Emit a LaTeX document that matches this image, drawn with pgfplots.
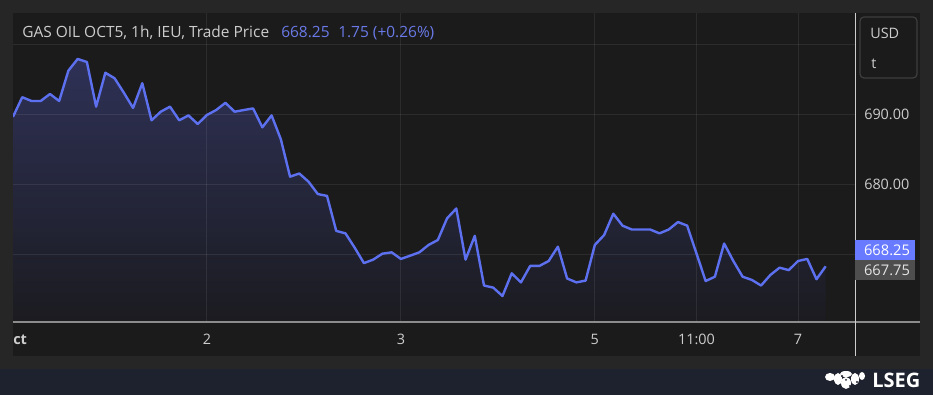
\documentclass[border=0pt]{standalone}
\usepackage{fontspec}
\setmainfont{Open Sans}
\usepackage{pgfplots}
\pgfplotsset{compat=1.18}
\usepackage{pgfplotstable}

\definecolor{outerbg}{RGB}{38,38,38}
\definecolor{panelbg}{RGB}{27,27,27}
\definecolor{strip}{RGB}{30,33,46}
\definecolor{linec}{RGB}{92,112,240}
\definecolor{txt}{RGB}{205,205,205}
\definecolor{bluetxt}{RGB}{106,122,232}
\definecolor{pricebox}{RGB}{104,122,255}
\definecolor{graybox}{RGB}{78,78,78}
\definecolor{filltop}{RGB}{46,49,86}
\definecolor{fillbot}{RGB}{27,27,32}
\definecolor{axisl}{RGB}{140,140,140}
\definecolor{vline}{RGB}{205,205,205}
\definecolor{boxborder}{RGB}{62,62,62}

\pgfplotstableread{
x y
0 689.6
1 692.4
2 691.86
3 691.86
4 692.86
5 691.86
6 696.2
7 697.86
8 697.43
9 691.05
10 695.9
11 695.1
12 693.05
13 690.86
14 694.4
15 689.1
16 690.33
17 691.05
18 689.1
19 689.8
20 688.57
21 689.86
22 690.57
23 691.6
24 690.33
25 690.57
26 690.8
27 688.1
28 689.8
29 686.4
30 681.05
31 681.5
32 680.33
33 678.57
34 678.3
35 673.3
36 672.95
37 670.9
38 668.7
39 669.2
40 670.05
41 670.24
42 669.3
43 669.76
44 670.24
45 671.3
46 672
47 675.1
48 676.5
49 669.2
50 672.6
51 665.5
52 665.2
53 664
54 667.24
55 665.95
56 668.3
57 668.3
58 669
59 671.05
60 666.5
61 665.95
62 666.2
63 671.3
64 672.7
65 675.76
66 674.05
67 673.5
68 673.5
69 673.5
70 672.95
71 673.5
72 674.57
73 674.05
74 670.1
75 666.14
76 666.76
77 671.5
78 669
79 666.76
80 666.3
81 665.5
82 667
83 668.05
84 667.7
85 669
86 669.3
87 666.4
88 668.25
}\pricedata

\begin{document}
\begin{tikzpicture}[x=0.75pt,y=0.75pt]
\useasboundingbox (0,0) rectangle (933,395);
\fill[outerbg] (0,0) rectangle (933,395);
\fill[strip] (0,0) rectangle (933,26);
\fill[panelbg] (13,39) rectangle (920,382);
\begin{axis}[
  at={(9.75pt,54.75pt)}, anchor=south west,
  scale only axis, width=631.5pt, height=231.75pt,
  xmin=0, xmax=91.17, ymin=660.29, ymax=704.43,
  axis line style={draw=none},
  major tick length=0pt,
  xtick={21,42,63,74,85}, xticklabels={2,3,5,11:00,7},
  ytick={680,690}, yticklabels={680.00,690.00},
  yticklabel pos=right,
  tick label style={font=\fontsize{10.8}{12}\selectfont, text=txt},
  xticklabel style={anchor=base, inner sep=0pt, yshift=-17.25pt},
  yticklabel style={anchor=west, inner sep=0pt, xshift=6.75pt},
]
\addplot[draw=none, top color=filltop, bottom color=fillbot, forget plot] table[x=x,y=y] {\pricedata} -- (axis cs:88,660.29) -- (axis cs:0,660.29) -- cycle;
\pgfplotsinvokeforeach{21,42,63,74,85}{
  \draw[white, draw opacity=0.08, line width=0.75pt] (axis cs:#1,660.29) -- (axis cs:#1,704.43);
}
\pgfplotsinvokeforeach{670,680,690,700}{
  \draw[white, draw opacity=0.08, line width=0.75pt] (axis cs:0,#1) -- (axis cs:91.17,#1);
}
\addplot[linec, line width=1.8pt, line join=round, mark=none] table[x=x,y=y] {\pricedata};
\end{axis}
\draw[axisl, line width=0.9pt] (13,73) -- (920,73);
\draw[vline, line width=0.75pt] (855,39) -- (855,382);
\draw[boxborder, rounded corners=3pt, line width=0.9pt] (860,317) rectangle (917,378);
\node[anchor=base west, inner sep=0pt, text=txt, font=\fontsize{10.8}{12}\selectfont] at (870,356.7) {USD};
\node[anchor=base west, inner sep=0pt, text=txt, font=\fontsize{10.8}{12}\selectfont] at (871,326.7) {t};
\fill[pricebox] (855,135) rectangle (915,155);
\node[text=white, inner sep=0pt, font=\fontsize{11}{12}\selectfont] at (887,145) {668.25};
\fill[graybox] (855,115) rectangle (915,135);
\node[text=white!90!black, inner sep=0pt, font=\fontsize{11}{12}\selectfont] at (887,125) {667.75};
\node[anchor=base west, inner sep=0pt, text=txt, font=\fontsize{11.6}{13}\selectfont] at (22,357.3) {GAS OIL OCT5, 1h, IEU, Trade Price};
\node[anchor=base west, inner sep=0pt, text=bluetxt, font=\fontsize{11.6}{13}\selectfont] at (281,357.3) {668.25};
\node[anchor=base west, inner sep=0pt, text=bluetxt, font=\fontsize{11.6}{13}\selectfont] at (338,357.3) {1.75 (+0.26\%)};
\node[anchor=base west, inner sep=0pt, text=txt, font=\bfseries\fontsize{10.8}{12}\selectfont] at (13,50) {ct};
\node[anchor=base west, inner sep=0pt, text=white, font=\bfseries\fontsize{15}{16}\selectfont] at (872,7.3) {LSEG};
% crest
\begin{scope}[white]
\fill (830,18) ellipse (5 and 4);
\fill (838,16) ellipse (4 and 6);
\fill (846,12) ellipse (5 and 6);
\fill (855,16) ellipse (4 and 6);
\fill (862,19) ellipse (3 and 4);
\fill (846,21) ellipse (6 and 3);
\end{scope}
\begin{scope}[strip]
\fill (834,12) circle (1.2);
\fill (842,19) circle (1.2);
\fill (850,9) circle (1.2);
\fill (857,13) circle (1.2);
\fill (846,15) circle (1);
\end{scope}
\end{tikzpicture}
\end{document}
